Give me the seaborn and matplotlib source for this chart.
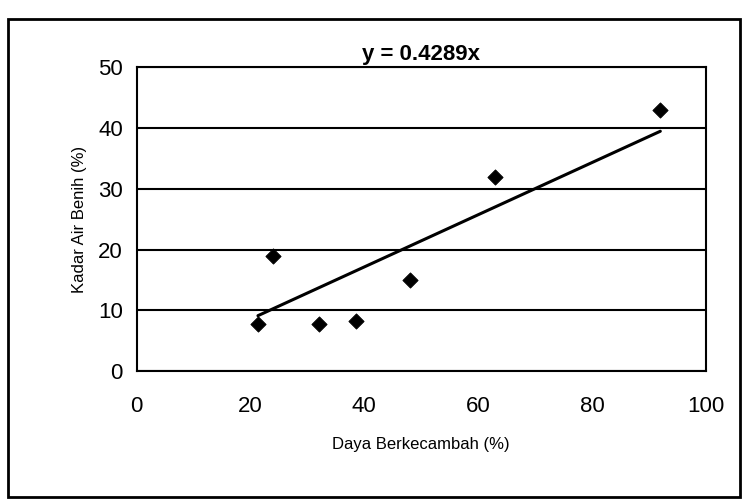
import numpy as np
import pandas as pd
import matplotlib
matplotlib.use("Agg")
import matplotlib.pyplot as plt
import seaborn as sns
from matplotlib.patches import Rectangle

# Data
daya_berkecambah = [21.3, 24.0, 32.0, 38.5, 48.0, 63.0, 92.0]
kadar_air = [7.7, 19.0, 7.7, 8.3, 15.0, 32.0, 43.0]
slope = 0.4289

df = pd.DataFrame({"x": daya_berkecambah, "y": kadar_air})

sns.set_style("white")
plt.rcParams["font.family"] = ["Liberation Sans", "DejaVu Sans"]
plt.rcParams["text.color"] = "black"
plt.rcParams["axes.labelcolor"] = "black"

fig = plt.figure(figsize=(7.43, 5.01), dpi=100)
ax = fig.add_axes([0.184, 0.259, 0.766, 0.607])

# Trend line through origin, drawn over data range
trend = pd.DataFrame({"x": [min(daya_berkecambah), max(daya_berkecambah)]})
trend["y"] = slope * trend["x"]
sns.lineplot(data=trend, x="x", y="y", color="black", linewidth=2.2, ax=ax)

sns.scatterplot(data=df, x="x", y="y", marker="D", color="black", s=60,
                edgecolor="black", ax=ax, zorder=5)

ax.set_xlim(0, 100)
ax.set_ylim(0, 50)
ax.set_xticks([0, 20, 40, 60, 80, 100])
ax.set_yticks([0, 10, 20, 30, 40, 50])
ax.yaxis.grid(True, color="black", linewidth=1.5)
ax.set_axisbelow(True)
for s in ax.spines.values():
    s.set_color("black")
    s.set_linewidth(1.5)
ax.tick_params(axis="both", direction="out", length=4, width=1.2,
               labelsize=16, colors="black", pad=14)
ax.tick_params(axis="y", pad=6)

ax.set_xlabel("Daya Berkecambah (%)", fontsize=12, labelpad=14, color="black")
ax.set_ylabel("Kadar Air Benih (%)", fontsize=12, labelpad=8, color="black")
ax.set_title("y = 0.4289x", fontsize=16, fontweight="bold", pad=5, color="black")

# Outer chart border
fig.patches.append(Rectangle((0.011, 0.008), 0.985, 0.955, transform=fig.transFigure,
                             fill=False, edgecolor="black", linewidth=2))

fig.savefig("out.png", dpi=100)
